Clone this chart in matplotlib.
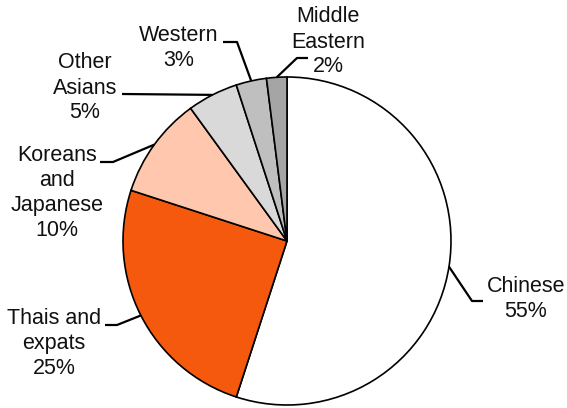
import numpy as np
import matplotlib
matplotlib.use("Agg")
import matplotlib.pyplot as plt

categories = ["Chinese", "Thais and\nexpats", "Koreans\nand\nJapanese", "Other\nAsians", "Western", "Middle\nEastern"]
values = [55, 25, 10, 5, 3, 2]
colors = ["#FFFFFF", "#F4590E", "#FFC7AD", "#D9D9D9", "#BFBFBF", "#A5A5A5"]

# layout (pixel coords, y from top)
text_pos = [(526, 299), (54, 343), (57, 193), (85, 88), (179, 48), (328, 42)]
elbows = [[(472, 301), (483, 301)],
          [(117, 325), (105, 325)],
          [(113, 162), (100, 162)],
          [(122, 94)],
          [(237, 42), (223, 42)],
          [(297, 58), (308, 58)]]

W, H = 567, 408
cx, cy, R = 287, 241, 164

plt.rcParams['font.family'] = ['Liberation Sans', 'DejaVu Sans']
fig = plt.figure(figsize=(W / 100, H / 100), dpi=100)
ax = fig.add_axes([0, 0, 1, 1])
ax.set_xlim(0, W)
ax.set_ylim(0, H)
ax.axis('off')

wedges, _ = ax.pie(values, colors=colors, startangle=90, counterclock=False,
                   center=(cx, H - cy), radius=R,
                   wedgeprops=dict(edgecolor='black', linewidth=1.2))
ax.set_xlim(0, W)
ax.set_ylim(0, H)
ax.set_aspect('equal')

total = sum(values)
for i, (lab, v) in enumerate(zip(categories, values)):
    w = wedges[i]
    mid = np.deg2rad((w.theta1 + w.theta2) / 2)
    ax_x = cx + R * np.cos(mid)
    ax_y = (H - cy) + R * np.sin(mid)
    pts = [(ax_x, ax_y)] + [(x, H - y) for x, y in elbows[i]]
    xs, ys = zip(*pts)
    ax.plot(xs, ys, color='black', lw=1.6, solid_capstyle='butt')
    tx, ty = text_pos[i]
    ax.text(tx, H - ty, f"{lab}\n{v/total*100:.0f}%", ha='center', va='center',
            fontsize=15.5, linespacing=1.25, color='#111111')

fig.savefig("out.png", dpi=100)
